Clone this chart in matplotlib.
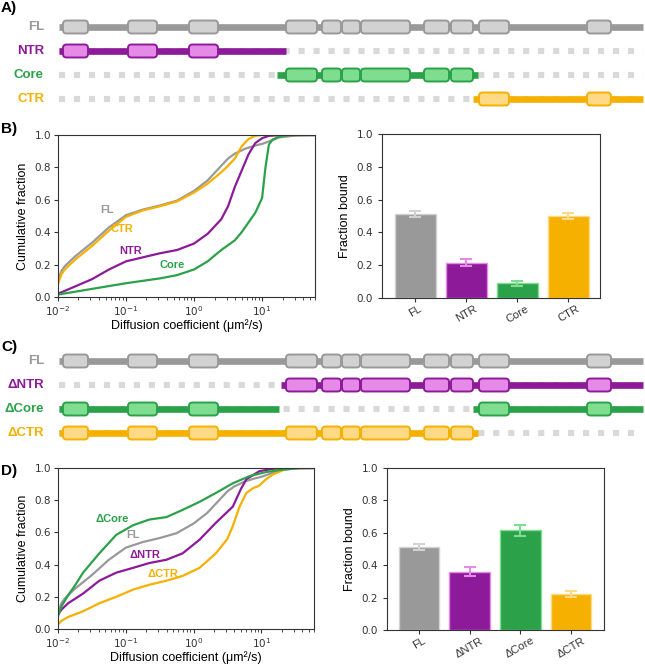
import matplotlib
matplotlib.use("Agg")
import matplotlib.pyplot as plt
import numpy as np
from matplotlib.patches import FancyBboxPatch

plt.rcParams['font.family'] = ['Liberation Sans', 'DejaVu Sans']

# colours (dark, light) per construct
gray, gray_l = '#999999', '#d2d2d2'
purple, purple_l = '#8d1a98', '#e68ae8'
green, green_l = '#2ba24a', '#7edd8f'
orange, orange_l = '#f5b000', '#ffd985'

# domain map (residue units)
protein_length = 584
domain_start = [4, 69, 130, 227, 263, 283, 302, 365, 392, 420, 528]
domain_end = [29, 98, 159, 258, 282, 301, 351, 390, 414, 450, 552]

names_a = ['FL', 'NTR', 'Core', 'CTR']
segments_a = [[(0, 584)], [(0, 227)], [(218, 419)], [(414, 584)]]
names_c = ['FL', 'ΔNTR', 'ΔCore', 'ΔCTR']
segments_c = [[(0, 584)], [(222, 584)], [(0, 220), (414, 584)], [(0, 419)]]
row_colors = [(gray, gray_l), (purple, purple_l), (green, green_l), (orange, orange_l)]

# cumulative distributions, log10(D) vs fraction
fl_logd = [-2, -1.95, -1.9, -1.75, -1.5, -1.25, -1, -0.75, -0.5, -0.25, 0, 0.2, 0.4, 0.5, 0.6, 0.75, 0.9, 1.0, 1.1, 1.25, 1.5, 1.78]
fl_cdf = [0.10, 0.16, 0.19, 0.25, 0.335, 0.43, 0.505, 0.54, 0.565, 0.595, 0.655, 0.72, 0.81, 0.855, 0.885, 0.915, 0.935, 0.945, 0.96, 0.985, 0.997, 1.0]
ctr_logd = [-2, -1.95, -1.9, -1.75, -1.5, -1.25, -1, -0.75, -0.5, -0.25, 0, 0.2, 0.4, 0.5, 0.6, 0.7, 0.8, 0.9, 1.0, 1.78]
ctr_cdf = [0.08, 0.14, 0.17, 0.23, 0.315, 0.41, 0.495, 0.535, 0.56, 0.59, 0.645, 0.70, 0.77, 0.81, 0.855, 0.93, 0.975, 0.995, 1.0, 1.0]
ntr_logd = [-2, -1.75, -1.5, -1.25, -1, -0.75, -0.5, -0.25, 0, 0.2, 0.4, 0.5, 0.6, 0.7, 0.8, 0.9, 1.0, 1.1, 1.3, 1.78]
ntr_cdf = [0.02, 0.065, 0.11, 0.17, 0.22, 0.245, 0.27, 0.29, 0.33, 0.39, 0.48, 0.56, 0.68, 0.78, 0.88, 0.95, 0.98, 0.995, 1.0, 1.0]
core_logd = [-2, -1.5, -1, -0.5, -0.25, 0, 0.2, 0.4, 0.6, 0.7, 0.8, 0.9, 1.0, 1.05, 1.1, 1.15, 1.25, 1.4, 1.78]
core_cdf = [0.015, 0.05, 0.085, 0.115, 0.135, 0.17, 0.22, 0.29, 0.35, 0.40, 0.46, 0.52, 0.61, 0.80, 0.94, 0.97, 0.99, 1.0, 1.0]

dcore_logd = [-2, -1.95, -1.85, -1.75, -1.63, -1.39, -1.14, -0.89, -0.65, -0.4, -0.16, 0.09, 0.33, 0.58, 0.83, 1.07, 1.32, 1.56, 1.78]
dcore_cdf = [0.08, 0.14, 0.21, 0.27, 0.35, 0.47, 0.585, 0.645, 0.68, 0.695, 0.74, 0.79, 0.845, 0.905, 0.95, 0.975, 0.99, 1.0, 1.0]
dntr_logd = [-2, -1.95, -1.85, -1.63, -1.39, -1.14, -0.89, -0.65, -0.4, -0.16, 0.09, 0.33, 0.58, 0.7, 0.78, 0.97, 1.17, 1.4, 1.78]
dntr_cdf = [0.09, 0.12, 0.16, 0.22, 0.30, 0.35, 0.38, 0.41, 0.43, 0.47, 0.555, 0.66, 0.76, 0.87, 0.93, 0.98, 0.995, 1.0, 1.0]
dctr_logd = [-2, -1.95, -1.85, -1.63, -1.39, -1.14, -0.89, -0.65, -0.4, -0.16, 0.09, 0.33, 0.5, 0.58, 0.68, 0.78, 0.88, 0.97, 1.07, 1.17, 1.37, 1.56, 1.78]
dctr_cdf = [0.03, 0.05, 0.075, 0.11, 0.16, 0.20, 0.245, 0.275, 0.30, 0.33, 0.38, 0.47, 0.56, 0.64, 0.76, 0.845, 0.875, 0.89, 0.93, 0.96, 0.995, 1.0, 1.0]

# fraction bound
bound_b = [0.51, 0.215, 0.09, 0.50]
bound_b_err = [0.018, 0.022, 0.014, 0.02]
bound_d = [0.51, 0.36, 0.615, 0.22]
bound_d_err = [0.018, 0.028, 0.033, 0.018]

W, H = 645, 664
fig = plt.figure(figsize=(W / 100, H / 100), dpi=100)


def px_axes(left, top, right, bottom):
    return fig.add_axes([left / W, 1 - bottom / H, (right - left) / W, (bottom - top) / H])


def domain_panel(ax, names, segments):
    ax.set_xlim(-59, W - 59)
    ax.set_ylim(3.5, -0.5)
    ax.axis('off')
    for i, (name, segs, (dark, light)) in enumerate(zip(names, segments, row_colors)):
        if i > 0:
            ax.plot([0, protein_length], [i, i], color='#d9d9d9', lw=4.4,
                    dashes=(1, 1.45), solid_capstyle='butt', zorder=1)
        for s0, s1 in segs:
            ax.plot([s0, s1], [i, i], color=dark, lw=4.8, solid_capstyle='butt', zorder=2)
            for d0, d1 in zip(domain_start, domain_end):
                if d0 >= s0 and d1 <= s1:
                    box = FancyBboxPatch((d0, i - 0.27), d1 - d0, 0.54,
                                         boxstyle='round,pad=0,rounding_size=3.5',
                                         mutation_aspect=1 / 24, fc=light, ec=dark,
                                         lw=1.4, zorder=3)
                    ax.add_patch(box)
        ax.text(-15, i, name, color=dark, fontsize=9.5, fontweight='bold',
                ha='right', va='center')


def cdf_panel(ax, curves, labels):
    for logd, cdf, col in curves:
        ax.plot(10 ** np.array(logd), cdf, color=col, lw=1.6)
    for txt, x, y, col in labels:
        ax.text(x, y, txt, color=col, fontsize=8, fontweight='bold', ha='center', va='center')
    ax.set_xscale('log')
    ax.set_xlim(0.01, 60)
    ax.set_ylim(0, 1)
    ax.set_ylabel('Cumulative fraction', fontsize=9)
    ax.set_xlabel('Diffusion coefficient (μm²/s)', fontsize=9, labelpad=1)
    ax.tick_params(labelsize=7.5, labelfontfamily='DejaVu Sans', colors='#333333',
                   length=3, pad=2)
    ax.tick_params(which='minor', length=2, colors='#333333')
    for s in ax.spines.values():
        s.set_color('#333333')


def bar_panel(ax, names, vals, errs, xlim):
    x = np.arange(len(names))
    darks = [c[0] for c in row_colors]
    lights = [c[1] for c in row_colors]
    ax.bar(x, vals, width=0.8, color=darks, edgecolor=lights, lw=1)
    for xi, v, e, lc in zip(x, vals, errs, lights):
        ax.errorbar(xi, v, yerr=e, fmt='none', ecolor=lc, elinewidth=1.5,
                    capsize=4.5, capthick=1.5)
    ax.set_xlim(*xlim)
    ax.set_ylim(0, 1)
    ax.set_xticks(x)
    ax.set_xticklabels(names, rotation=30, fontsize=8)
    ax.set_ylabel('Fraction bound', fontsize=9)
    ax.tick_params(axis='y', labelsize=7.5, labelfontfamily='DejaVu Sans')
    ax.tick_params(colors='#333333', length=3)
    ax.tick_params(axis='x', pad=1)
    for s in ax.spines.values():
        s.set_color('#333333')


# A
ax_a = px_axes(0, 15, W, 111)
domain_panel(ax_a, names_a, segments_a)

# B
ax_b1 = px_axes(58, 135, 315, 297)
cdf_panel(ax_b1,
          [(fl_logd, fl_cdf, gray), (ctr_logd, ctr_cdf, orange),
           (ntr_logd, ntr_cdf, purple), (core_logd, core_cdf, green)],
          [('FL', 0.053, 0.54, gray), ('CTR', 0.087, 0.42, orange),
           ('NTR', 0.117, 0.285, purple), ('Core', 0.48, 0.20, green)])
ax_b2 = px_axes(382, 134, 600, 298)
bar_panel(ax_b2, names_a, bound_b, bound_b_err, (-0.65, 3.62))

# C
ax_c = px_axes(0, 349, W, 445)
domain_panel(ax_c, names_c, segments_c)

# D
ax_d1 = px_axes(58, 468, 314, 629)
cdf_panel(ax_d1,
          [(fl_logd, fl_cdf, gray), (dctr_logd, dctr_cdf, orange),
           (dntr_logd, dntr_cdf, purple), (dcore_logd, dcore_cdf, green)],
          [('ΔCore', 0.063, 0.685, green), ('FL', 0.126, 0.586, gray),
           ('ΔNTR', 0.19, 0.46, purple), ('ΔCTR', 0.355, 0.344, orange)])
ax_d2 = px_axes(387, 468, 604, 630)
bar_panel(ax_d2, names_c, bound_d, bound_d_err, (-0.63, 3.65))

for lab, ypx in [('A)', 8), ('B)', 129), ('C)', 347), ('D)', 471)]:
    fig.text(1 / W, 1 - ypx / H, lab, fontsize=11, fontweight='bold', ha='left', va='center')

fig.savefig('out.png', dpi=100)
